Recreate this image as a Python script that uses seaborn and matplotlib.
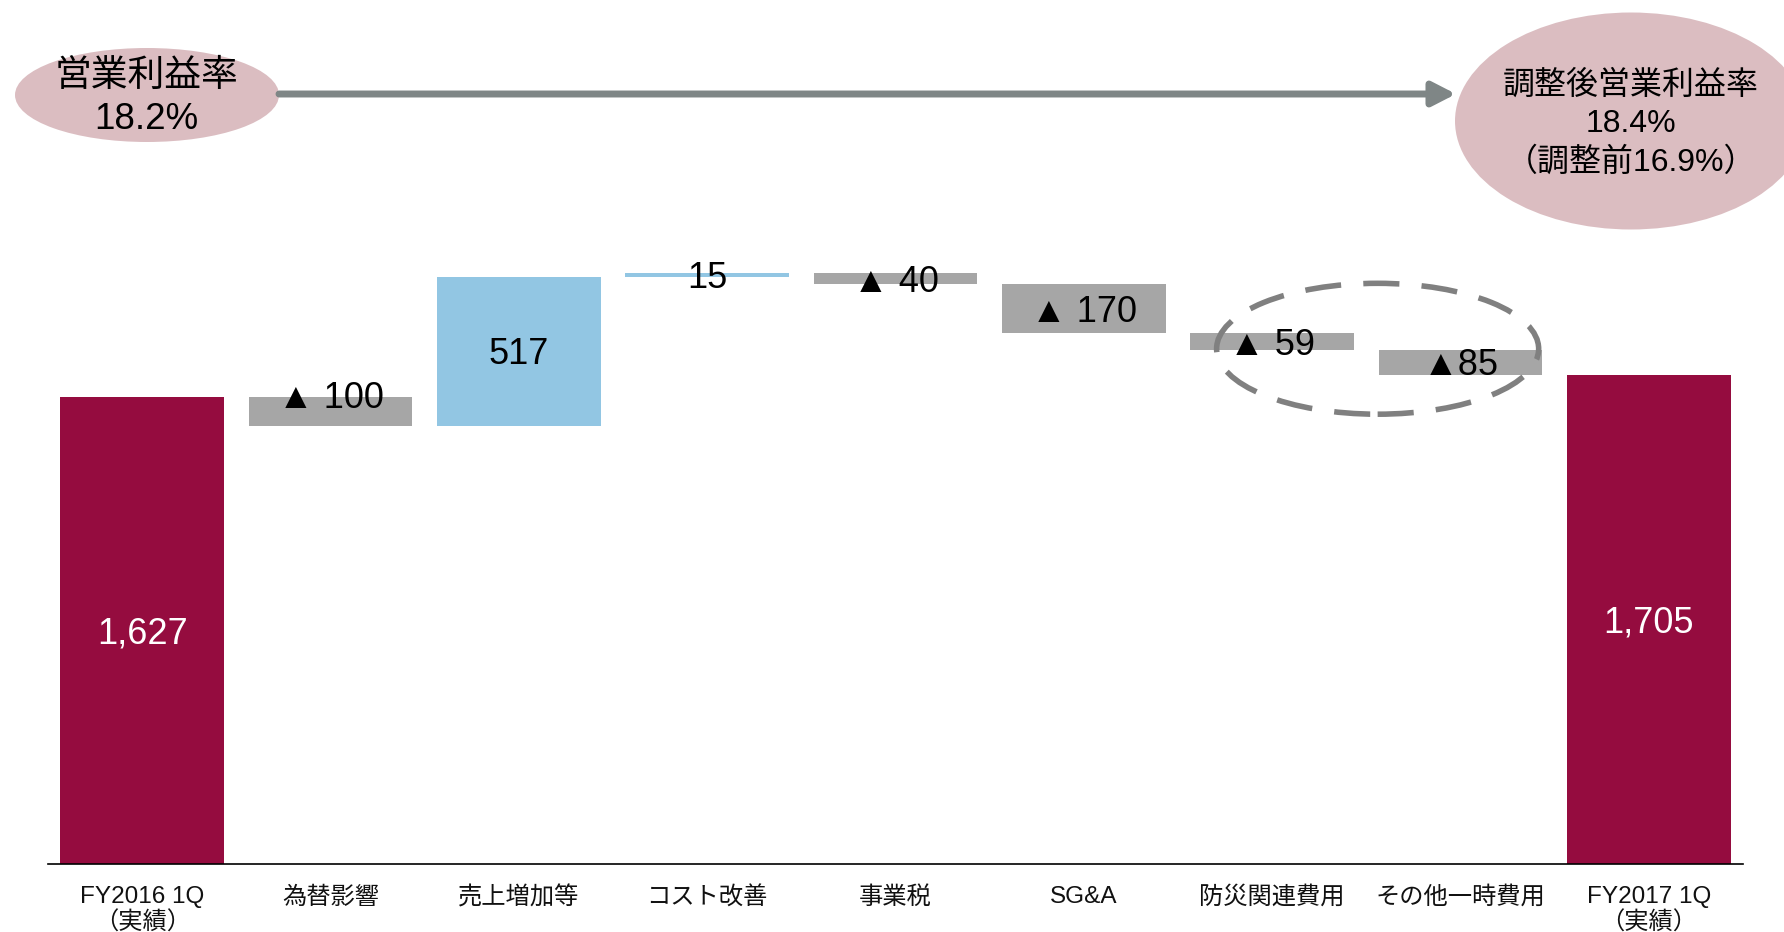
import numpy as np
import pandas as pd
import matplotlib
matplotlib.use("Agg")
import matplotlib.pyplot as plt
import seaborn as sns
from matplotlib.patches import Ellipse

# ------------------------------------------------------------------
# Données
# ------------------------------------------------------------------
categories = ['FY2016 1Q\n（実績）', '為替影響', '売上増加等', 'コスト改善', '事業税',
              'SG&A', '防災関連費用', 'その他一時費用', 'FY2017 1Q\n（実績）']
changes = [1627, -100, 517, 15, -40, -170, -59, -85, 1705]
kinds = ['total', 'delta', 'delta', 'delta', 'delta', 'delta', 'delta', 'delta', 'total']
value_labels = ['1,627', '▲ 100', '517', '15', '▲ 40', '▲ 170', '▲ 59', '▲85', '1,705']

left_bubble = ['営業利益率', '18.2%']
right_bubble = ['調整後営業利益率', '18.4%', '（調整前16.9%）']

# Couleurs
C_TOTAL = '#950c3f'
C_UP = '#92c6e3'
C_DOWN = '#a6a6a6'
C_BUBBLE = '#dbbdc1'
C_ARROW = '#7f8686'

# ------------------------------------------------------------------
# Calcul du waterfall
# ------------------------------------------------------------------
bottoms, heights = [], []
running = 0
for v, k in zip(changes, kinds):
    if k == 'total':
        bottoms.append(0)
        heights.append(v)
        running = v
    else:
        start = running
        running = running + v
        bottoms.append(min(start, running))
        heights.append(abs(v))

df = pd.DataFrame({'cat': categories, 'height': heights, 'bottom': bottoms,
                   'change': changes, 'kind': kinds, 'label': value_labels})

def bar_color(row):
    if row['kind'] == 'total':
        return C_TOTAL
    return C_UP if row['change'] > 0 else C_DOWN

df['color'] = df.apply(bar_color, axis=1)

# ------------------------------------------------------------------
# Figure
# ------------------------------------------------------------------
sns.set_theme(style="white")
plt.rcParams['font.family'] = ['Liberation Sans', 'Noto Sans CJK JP', 'DejaVu Sans']
plt.rcParams['text.color'] = 'black'
plt.rcParams['xtick.color'] = 'black'

fig = plt.figure(figsize=(17.84, 9.32), dpi=100)
ax = fig.add_axes([48 / 1784, 68 / 932, (1743 - 48) / 1784, 864 / 932])

sns.barplot(data=df, x='cat', y='height', bottom=df['bottom'].to_numpy(),
            color=C_DOWN, width=0.87, saturation=1, ax=ax)
for patch, c in zip(ax.patches, df['color']):
    patch.set_facecolor(c)
    patch.set_edgecolor('none')

ax.set_xlim(-0.5, 8.5)
ax.set_ylim(0, 3010)
ax.set_xlabel('')
ax.set_ylabel('')
ax.set_yticks([])
sns.despine(ax=ax, left=True)
ax.spines['bottom'].set_color('black')
ax.spines['bottom'].set_linewidth(1.2)
ax.tick_params(axis='x', length=0, pad=16, colors='black')
for t in ax.get_xticklabels():
    t.set_fontsize(17.5)
    t.set_color('#111111')
    t.set_family(['Liberation Sans Narrow', 'Liberation Sans', 'Noto Sans CJK JP'])
    t.set_linespacing(1.2)

# Étiquettes des barres
for i, row in df.iterrows():
    yc = row['bottom'] + row['height'] / 2
    color = 'black'
    if row['kind'] == 'total':
        color = 'white'
    elif i == 1:
        # l'étiquette est posée au-dessus de la barre
        yc = row['bottom'] + row['height'] + 5
    ax.text(i, yc - 12, row['label'], ha='center', va='center', fontsize=26, color=color,
            family=['Liberation Sans', 'DejaVu Sans'])

# Ellipse pointillée autour des frais exceptionnels
ax.add_patch(Ellipse((6.56, 1795), 1.71, 456, fill=False, edgecolor='#808080',
                     linewidth=4, linestyle=(0, (6.5, 4)), zorder=5))

# ------------------------------------------------------------------
# Bulles de marge et flèche
# ------------------------------------------------------------------
fig.patches.append(Ellipse((147 / 1784, 1 - 95 / 932), 264 / 1784, 94 / 932,
                           transform=fig.transFigure, facecolor=C_BUBBLE,
                           edgecolor='none', zorder=0))
fig.patches.append(Ellipse((1631 / 1784, 1 - 121 / 932), 352 / 1784, 217 / 932,
                           transform=fig.transFigure, facecolor=C_BUBBLE,
                           edgecolor='none', zorder=0))

fig.text(146 / 1784, 1 - 76 / 932, left_bubble[0], ha='center', va='center', fontsize=26.5)
fig.text(146 / 1784, 1 - 120 / 932, left_bubble[1], ha='center', va='center', fontsize=26.5)
for txt, ypix in zip(right_bubble, [86, 124, 162]):
    fig.text(1631 / 1784, 1 - ypix / 932, txt, ha='center', va='center', fontsize=23)

fig.add_artist(matplotlib.patches.FancyArrowPatch(
    (279 / 1784, 1 - 94 / 932), (1456 / 1784, 1 - 94 / 932),
    transform=fig.transFigure, arrowstyle='-|>,head_length=0.35,head_width=0.18',
    mutation_scale=40, color=C_ARROW, linewidth=5, shrinkA=0, shrinkB=0))

fig.savefig('out.png', dpi=100)
